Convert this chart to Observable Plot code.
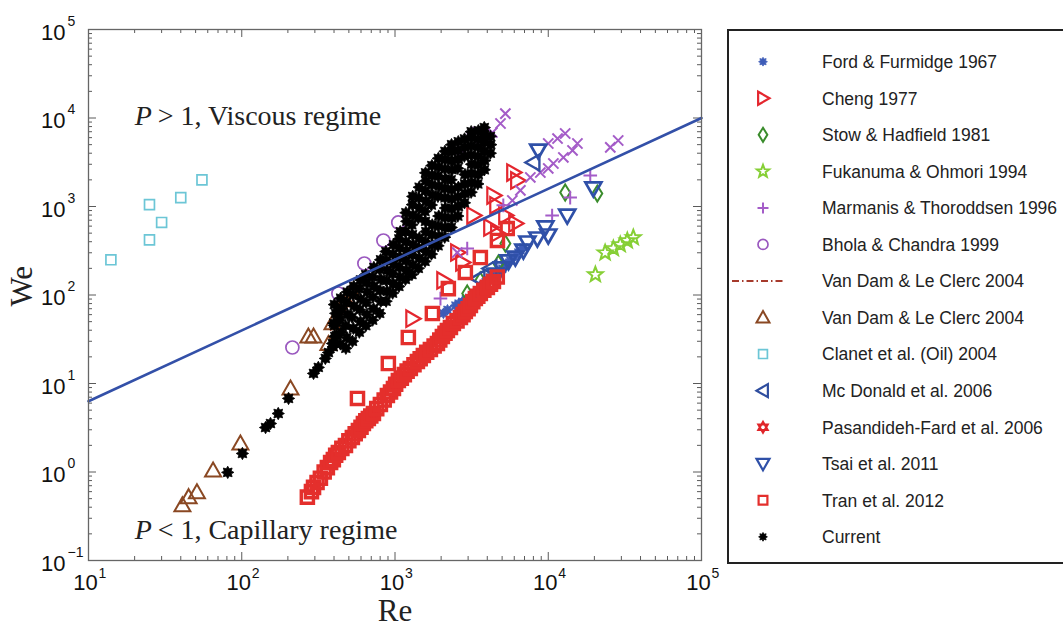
<!DOCTYPE html>
<html>
<head>
<meta charset="utf-8">
<script src="https://cdn.jsdelivr.net/npm/d3@7"></script>
<script src="https://cdn.jsdelivr.net/npm/@observablehq/plot@0.6"></script>
<style>
  html, body { margin: 0; padding: 0; background: #fff; }
  #wrap { position: relative; width: 1063px; height: 636px; overflow: hidden; }
  #chart { position: absolute; left: 0; top: 0; }
  #legend { position: absolute; left: 726px; top: 28px; }
</style>
</head>
<body>
<div id="wrap">
  <div id="chart"></div>
  <svg id="legend" width="337" height="540"></svg>
</div>
<script>
// ---- Axis ticks (Re and We, log scales) ----
const xMajor = [10, 100, 1000, 10000, 100000];
const yMajor = [0.1, 1, 10, 100, 1000, 10000, 100000];
const xExp = ["1", "2", "3", "4", "5"];
const yExp = ["\u22121", "0", "1", "2", "3", "4", "5"];

// ---- Data sets: [Re, We] ----
const ford = [[2070,62],[2200,68],[2480,76],[2600,80],[2750,84],[2900,90],[3105,87],[3250,98],[3400,105],[3605,122],[3750,130],[3900,140],[4190,158],[4400,168],[4600,178],[4800,188],[5020,199],[5300,225],[5660,245],[6000,270],[6380,302],[6600,320],[6880,344]];
const cheng = [[5920,2420],[6280,1970],[4390,1330],[4590,1030],[3250,790],[5250,790],[4190,580],[4650,495],[6100,643],[2750,233],[2550,302],[2070,146],[1300,54]];
const stow = [[2960,104],[3600,146],[4730,227],[5250,382],[12900,1440],[20900,1400]];
const fukanuma = [[20300,170],[23500,300],[26600,335],[29500,370],[32800,410],[35900,445]];
const marmanisCross = [[5250,11200],[4880,8670],[4320,6850],[3890,6020],[2750,4300],[10000,5150],[11500,5860],[12900,6680],[12550,3580],[14400,4300],[15500,5150],[7640,2130],[8880,2420],[10000,2690],[10800,3060],[25400,4650],[28600,5570],[2550,302],[5830,1170],[6580,1520]];
const marmanisPlus = [[3250,6680],[3720,5280],[2590,3970],[18800,2240],[13900,1260],[10600,790],[2960,335],[5090,1030],[1980,91]];
const bhola = [[214,25.5],[427,104],[631,227],[840,413],[1050,660]];
const vanDamLine = [[380,40],[560,100]];
const vanDam = [[41,0.42],[45,0.52],[51,0.59],[65,1.04],[98,2.1],[208,8.8],[272,34],[294,34],[368,28],[391,48],[475,87],[520,110]];
const clanet = [[14,250],[25,1050],[25,420],[30,660],[40,1260],[55,2000]];
const mcDonald = [[8000,3140],[3500,153],[4190,199]];
const pasandideh = [[3000,72],[3400,92],[3800,112],[4200,130]];
const tsai = [[4500,170],[5000,200],[5500,240],[6100,265],[6880,318],[7310,392],[8490,435],[9570,580],[10000,470],[13300,790],[19700,1600],[8600,4290]];
const tran = [[268,0.52],[285,0.60],[294,0.67],[310,0.76],[326,0.85],[345,1.0],[362,1.12],[380,1.28],[396,1.38],[410,1.55],[427,1.66],[450,1.85],[475,1.99],[500,2.25],[527,2.45],[550,2.7],[577,2.94],[600,3.2],[622,3.53],[645,3.8],[670,4.03],[695,4.3],[723,4.59],[760,5.2],[803,5.79],[850,6.5],[892,7.31],[935,8.0],[977,8.79],[1010,9.8],[1052,10.8],[1100,11.5],[1151,12.6],[1200,13.8],[1259,14.8],[1330,16.3],[1400,17.7],[1460,19.0],[1531,20.7],[1610,22.5],[1702,24.2],[1800,26.5],[1892,28.3],[1960,31],[2038,34.0],[2120,37],[2197,39.7],[2300,43],[2404,47.6],[2540,51],[2673,55.7],[2780,60],[2878,65.2],[3000,70],[3105,76.1],[3220,84],[3345,91.3],[3470,97],[3605,104],[3800,113],[4007,122],[4200,132],[4388,142],[4650,160],
  [569,6.78],[905,16.8],[1222,33.1],[1754,61.8],[2229,118],[2878,180],[3605,265],[4660,413],[5400,564]];
const current = [
  // low-Re tail
  [81,0.99],[101,1.62],[143,3.18],[154,3.53],[173,4.58],[202,6.78],[294,13.0],[316,15.2],[351,19.2],[368,22.4],[391,28.3],[403,45.2],[415,34.9],[427,63.4],
  // main cloud
  [395,26],[405,34],[398,48],[410,62],[402,78],
  [440,28],[445,38],[436,52],[448,70],[442,92],
  [478,25],[485,33],[476,45],[490,60],[482,82],[488,108],
  [528,30],[535,42],[525,56],[540,75],[532,100],[538,125],
  [585,38],[595,50],[588,68],[598,90],[584,118],[596,148],
  [645,45],[656,60],[648,82],[660,108],[652,138],[644,170],
  [715,52],[725,70],[718,95],[730,125],[712,160],[728,205],
  [795,62],[808,85],[798,112],[810,150],[792,195],[805,250],
  [875,85],[890,110],[878,145],[892,190],[882,245],[872,310],
  [965,105],[975,135],[960,175],[980,225],[968,290],[978,370],
  [1060,125],[1080,160],[1065,205],[1085,265],[1070,340],[1060,430],[1082,520],
  [1170,150],[1190,190],[1175,245],[1195,315],[1180,400],[1168,520],[1192,680],[1178,850],
  [1290,170],[1310,220],[1295,285],[1315,370],[1300,480],[1288,620],[1312,800],[1298,1050],[1305,1300],
  [1420,200],[1445,260],[1425,340],[1440,440],[1418,740],[1446,960],[1428,1250],[1438,1650],
  [1570,240],[1595,310],[1575,400],[1590,520],[1580,680],[1568,880],[1598,1150],[1576,1500],[1588,1950],[1582,2400],
  [1730,290],[1755,370],[1735,480],[1750,620],[1728,1040],[1758,1350],[1734,1750],[1748,2250],[1740,2900],
  [1910,360],[1935,460],[1915,600],[1930,780],[1905,1300],[1938,1700],[1912,2200],[1928,2800],[1918,3500],
  [2110,450],[2135,580],[2115,750],[2130,960],[2120,1250],[2105,1600],[2138,2050],[2112,2650],[2128,3400],[2118,4200],
  [2330,580],[2355,740],[2335,950],[2350,1220],[2340,1560],[2325,2000],[2358,2600],[2332,3300],[2348,4200],[2338,5000],
  [2570,780],[2595,1000],[2575,1280],[2590,1650],[2565,2700],[2598,3400],[2572,4300],[2588,5400],
  [2840,1100],[2865,1400],[2845,1800],[2860,2300],[2835,3700],[2868,4700],[2842,5800],
  [3140,1450],[3165,1850],[3145,2350],[3160,3000],[3150,3800],[3135,4800],[3168,6000],[3142,7000],
  [3470,1800],[3495,2300],[3475,2950],[3490,3700],[3480,4700],[3465,5800],[3498,7200],
  [3830,2600],[3850,3300],[3835,4200],[3848,5300],[3840,6500],[3825,7800],
  [4190,4000],[4215,5000],[4195,6200]
];

// P = 1 boundary, We = Re^0.8
const boundary = [[10, 6.3], [100000, 10000]];

// Regime annotations
const notes = [
  {Re: 20, We: 10500, rest: " > 1, Viscous regime"},
  {Re: 20, We: 0.22, rest: " < 1, Capillary regime"}
];
const weTitleAt = 74;

// ---- Marker shapes (size is the area handed over by Plot: r*r*PI) ----
const rad = s => Math.sqrt(s / Math.PI);
function poly(c, pts) {
  c.moveTo(pts[0][0], pts[0][1]);
  for (let i = 1; i < pts.length; i++) c.lineTo(pts[i][0], pts[i][1]);
  c.closePath();
}
const triRight = {draw(c, s) { const r = rad(s); poly(c, [[r, 0], [-0.75 * r, -r], [-0.75 * r, r]]); }};
const triLeft = {draw(c, s) { const r = rad(s); poly(c, [[-r, 0], [0.75 * r, -r], [0.75 * r, r]]); }};
const triUp = {draw(c, s) { const r = rad(s); poly(c, [[0, -r], [r, 0.75 * r], [-r, 0.75 * r]]); }};
const triDown = {draw(c, s) { const r = rad(s); poly(c, [[0, r], [r, -0.75 * r], [-r, -0.75 * r]]); }};
const diamond = {draw(c, s) { const r = rad(s); poly(c, [[0, -r], [0.62 * r, 0], [0, r], [-0.62 * r, 0]]); }};
const square = {draw(c, s) { const r = rad(s) * 0.8; poly(c, [[-r, -r], [r, -r], [r, r], [-r, r]]); }};
const ring = {draw(c, s) { const r = rad(s); c.moveTo(r, 0); c.arc(0, 0, r, 0, 2 * Math.PI); c.closePath(); }};
const hexagram = {draw(c, s) {
  const r = rad(s);
  poly(c, [[0, -r], [0.866 * r, 0.5 * r], [-0.866 * r, 0.5 * r]]);
  poly(c, [[0, r], [0.866 * r, -0.5 * r], [-0.866 * r, -0.5 * r]]);
}};
const pentagram = {draw(c, s) {
  const r = rad(s), pts = [];
  for (let i = 0; i < 10; i++) {
    const a = -Math.PI / 2 + i * Math.PI / 5, q = i % 2 ? r * 0.42 : r;
    pts.push([q * Math.cos(a), q * Math.sin(a)]);
  }
  poly(c, pts);
}};
const burst = {draw(c, s) {
  const r = rad(s), pts = [];
  for (let i = 0; i < 16; i++) {
    const a = i * Math.PI / 8, q = i % 2 ? r * 0.62 : r;
    pts.push([q * Math.cos(a), q * Math.sin(a)]);
  }
  poly(c, pts);
}};
const plus = {draw(c, s) { const r = rad(s); c.moveTo(-r, 0); c.lineTo(r, 0); c.moveTo(0, -r); c.lineTo(0, r); }};
const cross = {draw(c, s) { const r = rad(s) * 0.75; c.moveTo(-r, -r); c.lineTo(r, r); c.moveTo(-r, r); c.lineTo(r, -r); }};

// ---- Series styles (drawing order follows the legend) ----
const series = [
  {label: "Ford & Furmidge 1967", data: [ford], shapes: [burst], color: "#3d5cb8", r: 5.4, sw: 0.8, fill: true, lr: 4.4},
  {label: "Cheng 1977", data: [cheng], shapes: [triRight], color: "#e4262e", r: 8.2, sw: 2.2, lr: 6.5},
  {label: "Stow & Hadfield 1981", data: [stow], shapes: [diamond], color: "#3a8c2c", r: 8, sw: 2, lr: 7},
  {label: "Fukanuma & Ohmori 1994", data: [fukanuma], shapes: [pentagram], color: "#86cf35", r: 7.8, sw: 2, lr: 6.5},
  {label: "Marmanis & Thoroddsen 1996", data: [marmanisCross, marmanisPlus], shapes: [cross, plus], color: "#a45cc8", r: 6.8, sw: 2, lr: 5.5, lshape: plus},
  {label: "Bhola & Chandra 1999", data: [bhola], shapes: [ring], color: "#9a58bf", r: 6.5, sw: 1.7, lr: 5},
  {label: "Van Dam & Le Clerc 2004", line: vanDamLine, color: "#a63a2c"},
  {label: "Van Dam & Le Clerc 2004", data: [vanDam], shapes: [triUp], color: "#8a4823", r: 8, sw: 2, lr: 6.5},
  {label: "Clanet et al. (Oil) 2004", data: [clanet], shapes: [square], color: "#6cc6d6", r: 6.2, sw: 1.7, lr: 5.5},
  {label: "Mc Donald et al. 2006", data: [mcDonald], shapes: [triLeft], color: "#2f4e9f", r: 8, sw: 2.4, lr: 6.5},
  {label: "Pasandideh-Fard et al. 2006", data: [pasandideh], shapes: [hexagram], color: "#e0262a", r: 6.5, sw: 2, lr: 5.5},
  {label: "Tsai et al. 2011", data: [tsai], shapes: [triDown], color: "#2f50a8", r: 8, sw: 2.7, lr: 6.5},
  {label: "Tran et al. 2012", data: [tran], shapes: [square], color: "#e42f2c", r: 7.6, sw: 3.4, lr: 5.5},
  {label: "Current", data: [current], shapes: [burst], color: "#000000", r: 6.2, sw: 0.8, fill: true, lr: 4.4}
];

const asRows = arr => arr.map(([Re, We]) => ({Re, We}));

// ---- Tick positions ----
const minorOf = majors => majors.slice(0, -1).flatMap(d => d3.range(2, 10).map(k => k * d));
const xMinor = minorOf(xMajor), yMinor = minorOf(yMajor);

const W = 720, H = 636, mL = 88, mR = 19, mT = 29, mB = 76;
const fw = W - mL - mR, fh = H - mT - mB;
const tickCol = "#5a5a5a";
const sans = "Liberation Sans, Arial, Helvetica, sans-serif";
const serif = "Liberation Serif, Times New Roman, serif";

const dataMarks = [];
for (const s of series) {
  if (s.line) {
    dataMarks.push(Plot.line(asRows(s.line), {x: "Re", y: "We", stroke: s.color, strokeWidth: 1.6, strokeDasharray: "7,3,1.5,3"}));
    continue;
  }
  s.data.forEach((arr, i) => {
    dataMarks.push(Plot.dot(asRows(arr), {
      x: "Re", y: "We", symbol: s.shapes[i], r: s.r,
      stroke: s.color, strokeWidth: s.sw,
      fill: s.fill ? s.color : "none"
    }));
  });
}

const chart = Plot.plot({
  width: W, height: H,
  marginLeft: mL, marginRight: mR, marginTop: mT, marginBottom: mB,
  x: {type: "log", domain: [10, 1e5], axis: null},
  y: {type: "log", domain: [0.1, 1e5], axis: null},
  style: {background: "transparent", overflow: "visible"},
  marks: [
    // inward ticks on all four sides
    Plot.ruleX(xMajor, {x: d => d, insetTop: fh - 8, stroke: tickCol}),
    Plot.ruleX(xMajor, {x: d => d, insetBottom: fh - 8, stroke: tickCol}),
    Plot.ruleX(xMinor, {x: d => d, insetTop: fh - 4, stroke: tickCol}),
    Plot.ruleX(xMinor, {x: d => d, insetBottom: fh - 4, stroke: tickCol}),
    Plot.ruleY(yMajor, {y: d => d, insetRight: fw - 8, stroke: tickCol}),
    Plot.ruleY(yMajor, {y: d => d, insetLeft: fw - 8, stroke: tickCol}),
    Plot.ruleY(yMinor, {y: d => d, insetRight: fw - 4, stroke: tickCol}),
    Plot.ruleY(yMinor, {y: d => d, insetLeft: fw - 4, stroke: tickCol}),
    ...dataMarks,
    Plot.line(asRows(boundary), {x: "Re", y: "We", stroke: "#3350a8", strokeWidth: 2.6}),
    // regime labels
    Plot.text(notes, {x: "Re", y: "We", text: () => "P", textAnchor: "start", fontStyle: "italic", fontSize: 28, fontFamily: serif, fill: "#222"}),
    Plot.text(notes, {x: "Re", y: "We", text: "rest", textAnchor: "start", dx: 16, fontSize: 28, fontFamily: serif, fill: "#222"}),
    Plot.frame({stroke: "#666", strokeWidth: 1.3}),
    // tick labels: base and exponent
    Plot.text(xMajor, {x: d => d, frameAnchor: "bottom", text: () => "10", dx: -3, dy: 29, fontSize: 22, fontFamily: sans, fill: "#111"}),
    Plot.text(xMajor, {x: d => d, frameAnchor: "bottom", text: (d, i) => xExp[i], textAnchor: "start", dx: 10, dy: 17, fontSize: 14, fontFamily: sans, fill: "#111"}),
    Plot.text(yMajor, {y: d => d, frameAnchor: "left", text: () => "10", textAnchor: "end", dx: -23, dy: 3, fontSize: 22, fontFamily: sans, fill: "#111"}),
    Plot.text(yMajor, {y: d => d, frameAnchor: "left", text: (d, i) => yExp[i], textAnchor: "start", dx: -21, dy: -8, fontSize: 14, fontFamily: sans, fill: "#111"}),
    // axis titles
    Plot.text(["Re"], {frameAnchor: "bottom", text: d => d, dy: 60, fontSize: 31, fontFamily: serif, fill: "#222"}),
    Plot.text([weTitleAt], {y: d => d, frameAnchor: "left", text: () => "We", rotate: -90, dx: -66, fontSize: 31, fontFamily: serif, fill: "#222"})
  ]
});
document.getElementById("chart").appendChild(chart);

// ---- Legend ----
const lg = d3.select("#legend");
lg.append("rect").attr("x", 2).attr("y", 2).attr("width", 420).attr("height", 533)
  .attr("fill", "#fff").attr("stroke", "#222").attr("stroke-width", 2);
series.forEach((s, i) => {
  const cy = 33.7 + i * 36.55;
  const g = lg.append("g").attr("transform", `translate(0,${cy})`);
  if (s.line) {
    g.append("line").attr("x1", 6).attr("x2", 57).attr("y1", 0).attr("y2", 0)
      .attr("stroke", s.color).attr("stroke-width", 1.8).attr("stroke-dasharray", "7,3,1.5,3");
  } else {
    const p = d3.path();
    (s.lshape || s.shapes[0]).draw(p, s.lr * s.lr * Math.PI);
    g.append("path").attr("transform", "translate(37,0)").attr("d", p.toString())
      .attr("fill", s.fill ? s.color : "none").attr("stroke", s.color).attr("stroke-width", Math.min(s.sw, 2.2));
  }
  g.append("text").attr("x", 96).attr("dy", "0.36em").text(s.label)
    .attr("font-family", sans).attr("font-size", 17.5).attr("fill", "#222");
});
</script>
</body>
</html>
